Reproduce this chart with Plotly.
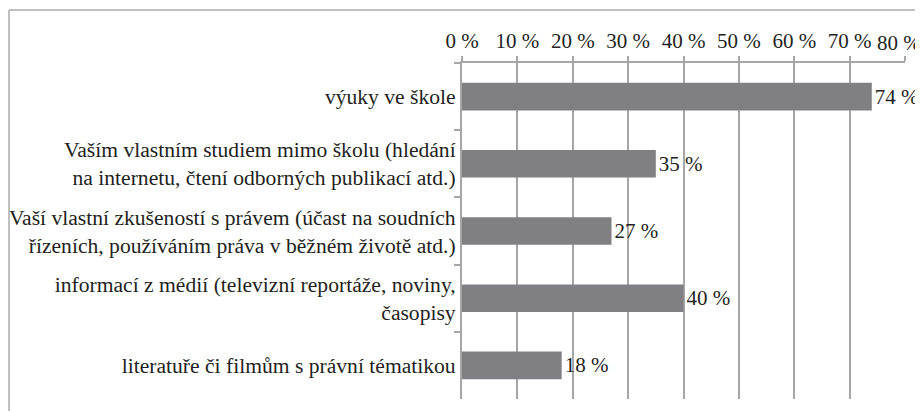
import plotly.graph_objects as go

categories = [
    "výuky ve škole",
    "Vaším vlastním studiem mimo školu (hledání<br>na internetu, čtení odborných publikací atd.)",
    "Vaší vlastní zkušeností s právem (účast na soudních<br>řízeních, používáním práva v běžném životě atd.)",
    "informací z médií (televizní reportáže, noviny,<br>časopisy",
    "literatuře či filmům s právní tématikou",
]
values = [74, 35, 27, 40, 18]
tick_vals = [0, 10, 20, 30, 40, 50, 60, 70, 80]
tick_text = ["0 %", "10 %", "20 %", "30 %", "40 %", "50 %", "60 %", "70 %", "80 %"]

FONT = "Liberation Serif"
FS = 21
FS_Y = 21.6
TXT = "#231f20"
OFF = 8  # page offset of the figure
L, T = 462 - OFF, 63 - OFF
R = 923 - (905 - OFF)
B = 411 - (399 - OFF)
PW, PH = 923 - L - R, 411 - T - B

fig = go.Figure()
fig.add_trace(go.Bar(
    x=values,
    y=categories,
    orientation="h",
    width=0.41,
    marker=dict(color="#808083", line=dict(width=0)),
    text=[f"{v} %" for v in values],
    textposition="outside",
    textfont=dict(family=FONT, size=FS, color=TXT),
    cliponaxis=False,
))

# last x tick label is drawn slightly inward (as in the reference) so it fits
fig.add_annotation(
    x=tick_vals[-1], xref="x", y=1, yref="paper",
    text=tick_text[-1], showarrow=False,
    xanchor="center", yanchor="middle", xshift=-6, yshift=20,
    font=dict(family=FONT, size=FS, color=TXT),
)

fig.update_layout(
    width=923, height=411,
    margin=dict(l=L, r=R, t=T, b=B, autoexpand=False),
    paper_bgcolor="white", plot_bgcolor="white",
    showlegend=False,
    font=dict(family=FONT, size=FS, color=TXT),
    xaxis=dict(
        side="top", range=[0, 80], tickvals=tick_vals,
        ticktext=tick_text[:-1] + [""],
        automargin=False, ticklabeloverflow="allow",
        showgrid=True, gridcolor="#a6a6a6", gridwidth=2,
        zeroline=False, showline=True, linecolor="#a6a6a6", linewidth=2,
        ticks="outside", ticklen=5, tickcolor="#a6a6a6", tickwidth=2,
        tickfont=dict(family=FONT, size=FS, color=TXT),
    ),
    yaxis=dict(
        autorange="reversed", automargin=False, ticklabeloverflow="allow",
        showline=True, linecolor="#a6a6a6", linewidth=2,
        ticks="outside", ticklen=6, tickcolor="#a6a6a6", tickwidth=2,
        tickson="boundaries", showgrid=False,
        tickfont=dict(family=FONT, size=FS_Y, color=TXT),
    ),
    shapes=[
        dict(type="line", xref="paper", yref="paper",
             x0=(8 - OFF + 1 - L) / PW, x1=(923 - L) / PW + 0.1,
             y0=1 + (T - (10 - OFF)) / PH, y1=1 + (T - (10 - OFF)) / PH,
             line=dict(color="#bfbfbf", width=2)),
        dict(type="line", xref="paper", yref="paper",
             x0=(8 - OFF + 1 - L) / PW, x1=(8 - OFF + 1 - L) / PW,
             y0=1 + (T - (10 - OFF)) / PH, y1=-0.2,
             line=dict(color="#bfbfbf", width=2)),
    ],
)

fig.write_html("out.html")
